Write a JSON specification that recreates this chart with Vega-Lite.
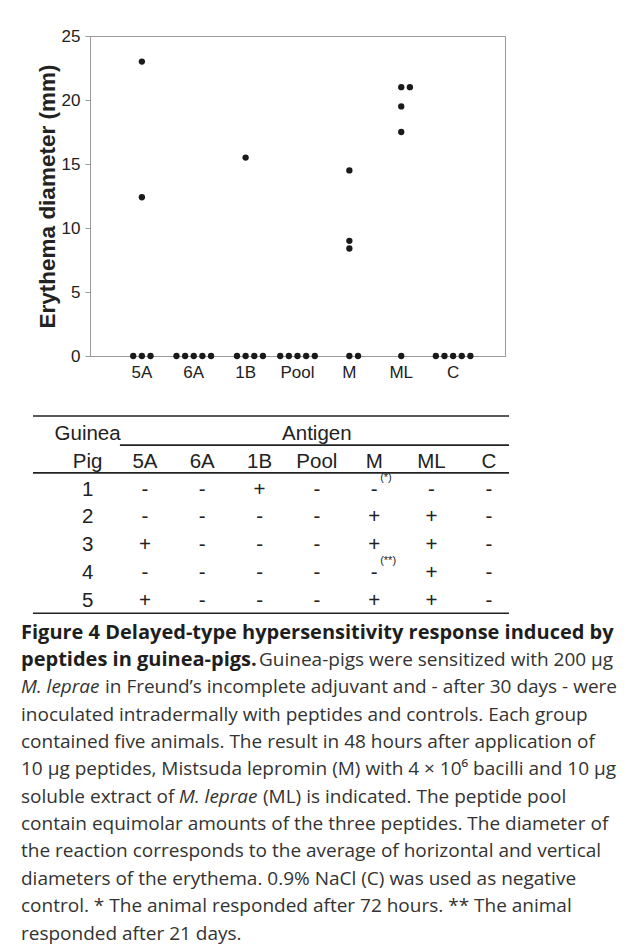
{
  "$schema": "https://vega.github.io/schema/vega-lite/v6.json",
  "background": "white",
  "padding": {"left": 21, "top": 26, "right": 6, "bottom": 4},
  "spacing": 4,
  "config": {"view": {"stroke": null}, "font": "Liberation Sans"},
  "datasets": {
    "dots": [
      {"antigen": "5A", "diameter": 23, "slot": "0"},
      {"antigen": "5A", "diameter": 12.4, "slot": "0"},
      {"antigen": "5A", "diameter": 0, "slot": "-1"},
      {"antigen": "5A", "diameter": 0, "slot": "0"},
      {"antigen": "5A", "diameter": 0, "slot": "1"},
      {"antigen": "6A", "diameter": 0, "slot": "-2"},
      {"antigen": "6A", "diameter": 0, "slot": "-1"},
      {"antigen": "6A", "diameter": 0, "slot": "0"},
      {"antigen": "6A", "diameter": 0, "slot": "1"},
      {"antigen": "6A", "diameter": 0, "slot": "2"},
      {"antigen": "1B", "diameter": 15.5, "slot": "0"},
      {"antigen": "1B", "diameter": 0, "slot": "-1"},
      {"antigen": "1B", "diameter": 0, "slot": "0"},
      {"antigen": "1B", "diameter": 0, "slot": "1"},
      {"antigen": "1B", "diameter": 0, "slot": "2"},
      {"antigen": "Pool", "diameter": 0, "slot": "-2"},
      {"antigen": "Pool", "diameter": 0, "slot": "-1"},
      {"antigen": "Pool", "diameter": 0, "slot": "0"},
      {"antigen": "Pool", "diameter": 0, "slot": "1"},
      {"antigen": "Pool", "diameter": 0, "slot": "2"},
      {"antigen": "M", "diameter": 14.5, "slot": "0"},
      {"antigen": "M", "diameter": 9, "slot": "0"},
      {"antigen": "M", "diameter": 8.4, "slot": "0"},
      {"antigen": "M", "diameter": 0, "slot": "0"},
      {"antigen": "M", "diameter": 0, "slot": "1"},
      {"antigen": "ML", "diameter": 21, "slot": "0"},
      {"antigen": "ML", "diameter": 21, "slot": "1"},
      {"antigen": "ML", "diameter": 19.5, "slot": "0"},
      {"antigen": "ML", "diameter": 17.5, "slot": "0"},
      {"antigen": "ML", "diameter": 0, "slot": "0"},
      {"antigen": "C", "diameter": 0, "slot": "-2"},
      {"antigen": "C", "diameter": 0, "slot": "-1"},
      {"antigen": "C", "diameter": 0, "slot": "0"},
      {"antigen": "C", "diameter": 0, "slot": "1"},
      {"antigen": "C", "diameter": 0, "slot": "2"}
    ],
    "table": [
      {"row": -1, "col": "Guinea Pig", "text": "Guinea", "note": ""},
      {"row": -1, "col": "Pool", "text": "Antigen", "note": ""},
      {"row": 0, "col": "Guinea Pig", "text": "Pig", "note": ""},
      {"row": 0, "col": "5A", "text": "5A", "note": ""},
      {"row": 0, "col": "6A", "text": "6A", "note": ""},
      {"row": 0, "col": "1B", "text": "1B", "note": ""},
      {"row": 0, "col": "Pool", "text": "Pool", "note": ""},
      {"row": 0, "col": "M", "text": "M", "note": ""},
      {"row": 0, "col": "ML", "text": "ML", "note": ""},
      {"row": 0, "col": "C", "text": "C", "note": ""},
      {"row": 1, "col": "Guinea Pig", "text": "1", "note": ""},
      {"row": 1, "col": "5A", "text": "-", "note": ""},
      {"row": 1, "col": "6A", "text": "-", "note": ""},
      {"row": 1, "col": "1B", "text": "+", "note": ""},
      {"row": 1, "col": "Pool", "text": "-", "note": ""},
      {"row": 1, "col": "M", "text": "-", "note": "(*)"},
      {"row": 1, "col": "ML", "text": "-", "note": ""},
      {"row": 1, "col": "C", "text": "-", "note": ""},
      {"row": 2, "col": "Guinea Pig", "text": "2", "note": ""},
      {"row": 2, "col": "5A", "text": "-", "note": ""},
      {"row": 2, "col": "6A", "text": "-", "note": ""},
      {"row": 2, "col": "1B", "text": "-", "note": ""},
      {"row": 2, "col": "Pool", "text": "-", "note": ""},
      {"row": 2, "col": "M", "text": "+", "note": ""},
      {"row": 2, "col": "ML", "text": "+", "note": ""},
      {"row": 2, "col": "C", "text": "-", "note": ""},
      {"row": 3, "col": "Guinea Pig", "text": "3", "note": ""},
      {"row": 3, "col": "5A", "text": "+", "note": ""},
      {"row": 3, "col": "6A", "text": "-", "note": ""},
      {"row": 3, "col": "1B", "text": "-", "note": ""},
      {"row": 3, "col": "Pool", "text": "-", "note": ""},
      {"row": 3, "col": "M", "text": "+", "note": ""},
      {"row": 3, "col": "ML", "text": "+", "note": ""},
      {"row": 3, "col": "C", "text": "-", "note": ""},
      {"row": 4, "col": "Guinea Pig", "text": "4", "note": ""},
      {"row": 4, "col": "5A", "text": "-", "note": ""},
      {"row": 4, "col": "6A", "text": "-", "note": ""},
      {"row": 4, "col": "1B", "text": "-", "note": ""},
      {"row": 4, "col": "Pool", "text": "-", "note": ""},
      {"row": 4, "col": "M", "text": "-", "note": "(**)"},
      {"row": 4, "col": "ML", "text": "+", "note": ""},
      {"row": 4, "col": "C", "text": "-", "note": ""},
      {"row": 5, "col": "Guinea Pig", "text": "5", "note": ""},
      {"row": 5, "col": "5A", "text": "+", "note": ""},
      {"row": 5, "col": "6A", "text": "-", "note": ""},
      {"row": 5, "col": "1B", "text": "-", "note": ""},
      {"row": 5, "col": "Pool", "text": "-", "note": ""},
      {"row": 5, "col": "M", "text": "+", "note": ""},
      {"row": 5, "col": "ML", "text": "+", "note": ""},
      {"row": 5, "col": "C", "text": "-", "note": ""}
    ],
    "rules": [
      {"at": -1.65, "from": "Guinea Pig", "to": "C", "span": "all"},
      {"at": -0.6, "from": "5A", "to": "C", "span": "antigen"},
      {"at": 0.4, "from": "Guinea Pig", "to": "C", "span": "all"},
      {"at": 5.45, "from": "Guinea Pig", "to": "C", "span": "all"}
    ],
    "caption": [
      {"line": 0, "seg": 1, "style": "bold", "text": "Figure 4 Delayed-type hypersensitivity response induced by"},
      {"line": 1, "seg": 1, "style": "bold", "text": "peptides in guinea-pigs."},
      {"line": 1, "seg": 2, "style": "regular", "text": "Guinea-pigs were sensitized with 200 µg"},
      {"line": 2, "seg": 1, "style": "italic", "text": "M. leprae"},
      {"line": 2, "seg": 2, "style": "regular", "text": "in Freund’s incomplete adjuvant and - after 30 days - were"},
      {"line": 3, "seg": 1, "style": "regular", "text": "inoculated intradermally with peptides and controls. Each group"},
      {"line": 4, "seg": 1, "style": "regular", "text": "contained five animals. The result in 48 hours after application of"},
      {"line": 5, "seg": 1, "style": "regular", "text": "10 µg peptides, Mistsuda lepromin (M) with 4 × 10⁶ bacilli and 10 µg"},
      {"line": 6, "seg": 1, "style": "regular", "text": "soluble extract of"},
      {"line": 6, "seg": 2, "style": "italic", "text": "M. leprae"},
      {"line": 6, "seg": 3, "style": "regular", "text": "(ML) is indicated. The peptide pool"},
      {"line": 7, "seg": 1, "style": "regular", "text": "contain equimolar amounts of the three peptides. The diameter of"},
      {"line": 8, "seg": 1, "style": "regular", "text": "the reaction corresponds to the average of horizontal and vertical"},
      {"line": 9, "seg": 1, "style": "regular", "text": "diameters of the erythema. 0.9% NaCl (C) was used as negative"},
      {"line": 10, "seg": 1, "style": "regular", "text": "control. * The animal responded after 72 hours. ** The animal"},
      {"line": 11, "seg": 1, "style": "regular", "text": "responded after 21 days."}
    ]
  },
  "vconcat": [
    {
      "spacing": 0,
      "hconcat": [
        {
          "width": 13.6, "height": 1,
          "data": {"values": [{"k": 1}]},
          "mark": {"type": "text"},
          "encoding": {"text": {"value": ""}}
        },
        {
          "width": 415,
          "height": 320,
          "view": {"stroke": "#999999", "strokeWidth": 1},
          "data": {"name": "dots"},
          "mark": {"type": "point", "filled": true, "size": 40, "color": "#1a1a1a", "opacity": 1},
          "encoding": {
            "x": {
              "field": "antigen", "type": "nominal",
              "sort": ["5A", "6A", "1B", "Pool", "M", "ML", "C"],
              "scale": {"type": "band", "paddingInner": 0, "paddingOuter": 0.5},
              "axis": {"title": null, "labelAngle": 0, "labelFontSize": 17, "labelColor": "#222222", "labelPadding": 8, "ticks": false, "domainColor": "#999999", "domainWidth": 1.2}
            },
            "xOffset": {"field": "slot", "type": "nominal", "scale": {"domain": ["-2", "-1", "0", "1", "2"], "paddingInner": 0, "paddingOuter": 2.9}},
            "y": {
              "field": "diameter", "type": "quantitative",
              "scale": {"domain": [0, 25], "nice": false},
              "axis": {"values": [0, 5, 10, 15, 20, 25], "grid": false, "title": "Erythema diameter (mm)", "titleFontSize": 22.5, "titleFontWeight": "bold", "titleColor": "#222222", "titlePadding": 2, "labelFontSize": 17, "labelColor": "#222222", "labelPadding": 5, "tickSize": 5, "tickColor": "#999999", "domainColor": "#999999"}
            }
          }
        }
      ]
    },
    {
      "spacing": 0,
      "hconcat": [
        {
          "width": 11, "height": 1,
          "data": {"values": [{"k": 1}]},
          "mark": {"type": "text"},
          "encoding": {"text": {"value": ""}}
        },
        {
          "width": 476,
          "height": 223.7,
          "layer": [
            {
              "data": {"name": "rules"},
              "transform": [{"filter": "datum.span == 'all'"}],
              "mark": {"type": "rule", "color": "#222222", "strokeWidth": 1.6, "xOffset": -54.6, "x2Offset": 20.2},
              "encoding": {
                "x": {"field": "from", "type": "nominal", "scale": {"type": "point", "domain": ["Guinea Pig", "5A", "6A", "1B", "Pool", "M", "ML", "C"], "padding": 0.6526, "align": 0.73}, "axis": null},
                "x2": {"field": "to"},
                "y": {"field": "at", "type": "quantitative", "scale": {"domain": [-2.547, 5.5], "reverse": true, "nice": false, "zero": false}, "axis": null}
              }
            },
            {
              "data": {"name": "rules"},
              "transform": [{"filter": "datum.span == 'antigen'"}],
              "mark": {"type": "rule", "color": "#222222", "strokeWidth": 1.6, "xOffset": -25, "x2Offset": 20.2},
              "encoding": {
                "x": {"field": "from", "type": "nominal", "scale": {"type": "point", "domain": ["Guinea Pig", "5A", "6A", "1B", "Pool", "M", "ML", "C"], "padding": 0.6526, "align": 0.73}, "axis": null},
                "x2": {"field": "to"},
                "y": {"field": "at", "type": "quantitative", "scale": {"domain": [-2.547, 5.5], "reverse": true, "nice": false, "zero": false}, "axis": null}
              }
            },
            {
              "data": {"name": "table"},
              "mark": {"type": "text", "fontSize": 20.5, "color": "#222222", "baseline": "middle"},
              "encoding": {
                "x": {"field": "col", "type": "nominal", "scale": {"type": "point", "domain": ["Guinea Pig", "5A", "6A", "1B", "Pool", "M", "ML", "C"], "padding": 0.6526, "align": 0.73}, "axis": null},
                "y": {"field": "row", "type": "quantitative", "scale": {"domain": [-2.547, 5.5], "reverse": true, "nice": false, "zero": false}, "axis": null},
                "text": {"field": "text"}
              }
            },
            {
              "data": {"name": "table"},
              "transform": [{"filter": "datum.note != ''"}],
              "mark": {"type": "text", "fontSize": 11, "color": "#222222", "baseline": "middle", "align": "left", "dx": 6, "dy": -12},
              "encoding": {
                "x": {"field": "col", "type": "nominal", "scale": {"type": "point", "domain": ["Guinea Pig", "5A", "6A", "1B", "Pool", "M", "ML", "C"], "padding": 0.6526, "align": 0.73}, "axis": null},
                "y": {"field": "row", "type": "quantitative", "scale": {"domain": [-2.547, 5.5], "reverse": true, "nice": false, "zero": false}, "axis": null},
                "text": {"field": "note"}
              }
            }
          ]
        }
      ]
    },
    {
      "width": 594,
      "height": 328.2,
      "data": {"name": "caption"},
      "layer": [
        {
          "transform": [{"filter": "datum.style == 'bold'"}],
          "mark": {"type": "text", "align": "left", "baseline": "middle", "font": "Open Sans", "fontSize": 20, "fontWeight": "bold", "color": "#1e1e1e"},
          "encoding": {
            "x": {"value": 0},
            "y": {"field": "line", "type": "quantitative", "scale": {"domain": [-0.5, 11.5], "reverse": true, "nice": false, "zero": false}, "axis": null},
            "text": {"field": "text"}
          }
        },
        {
          "transform": [{"filter": "datum.style == 'regular' && datum.seg == 1"}],
          "mark": {"type": "text", "align": "left", "baseline": "middle", "font": "Open Sans", "fontSize": 19, "color": "#333333"},
          "encoding": {
            "x": {"value": 0},
            "y": {"field": "line", "type": "quantitative", "scale": {"domain": [-0.5, 11.5], "reverse": true, "nice": false, "zero": false}, "axis": null},
            "text": {"field": "text"}
          }
        },
        {
          "transform": [{"filter": "datum.style == 'italic' && datum.seg == 1"}],
          "mark": {"type": "text", "align": "left", "baseline": "middle", "font": "Open Sans", "fontSize": 19, "fontStyle": "italic", "color": "#333333"},
          "encoding": {
            "x": {"value": 0},
            "y": {"field": "line", "type": "quantitative", "scale": {"domain": [-0.5, 11.5], "reverse": true, "nice": false, "zero": false}, "axis": null},
            "text": {"field": "text"}
          }
        },
        {
          "transform": [{"filter": "datum.line == 1 && datum.seg == 2"}],
          "mark": {"type": "text", "align": "left", "baseline": "middle", "font": "Open Sans", "fontSize": 19, "color": "#333333", "dx": 238},
          "encoding": {
            "x": {"value": 0},
            "y": {"field": "line", "type": "quantitative", "scale": {"domain": [-0.5, 11.5], "reverse": true, "nice": false, "zero": false}, "axis": null},
            "text": {"field": "text"}
          }
        },
        {
          "transform": [{"filter": "datum.line == 2 && datum.seg == 2"}],
          "mark": {"type": "text", "align": "left", "baseline": "middle", "font": "Open Sans", "fontSize": 19, "color": "#333333", "dx": 84},
          "encoding": {
            "x": {"value": 0},
            "y": {"field": "line", "type": "quantitative", "scale": {"domain": [-0.5, 11.5], "reverse": true, "nice": false, "zero": false}, "axis": null},
            "text": {"field": "text"}
          }
        },
        {
          "transform": [{"filter": "datum.line == 6 && datum.seg == 2"}],
          "mark": {"type": "text", "align": "left", "baseline": "middle", "font": "Open Sans", "fontSize": 19, "fontStyle": "italic", "color": "#333333", "dx": 158},
          "encoding": {
            "x": {"value": 0},
            "y": {"field": "line", "type": "quantitative", "scale": {"domain": [-0.5, 11.5], "reverse": true, "nice": false, "zero": false}, "axis": null},
            "text": {"field": "text"}
          }
        },
        {
          "transform": [{"filter": "datum.line == 6 && datum.seg == 3"}],
          "mark": {"type": "text", "align": "left", "baseline": "middle", "font": "Open Sans", "fontSize": 19, "color": "#333333", "dx": 242},
          "encoding": {
            "x": {"value": 0},
            "y": {"field": "line", "type": "quantitative", "scale": {"domain": [-0.5, 11.5], "reverse": true, "nice": false, "zero": false}, "axis": null},
            "text": {"field": "text"}
          }
        }
      ]
    }
  ]
}
